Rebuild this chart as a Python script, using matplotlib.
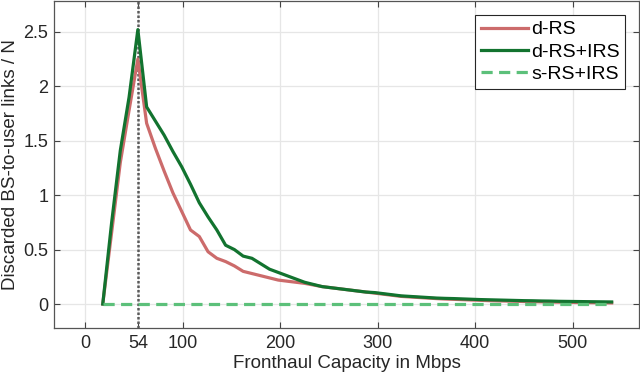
import numpy as np
import matplotlib
matplotlib.use('Agg')
import matplotlib.pyplot as plt

plt.rcParams['font.family'] = ['Liberation Sans', 'DejaVu Sans']

# Fronthaul capacity samples (Mbps)
capacity = list(range(18, 541, 9))

d_rs = [0, 0.65, 1.30, 1.78, 2.25, 1.66, 1.43, 1.22, 1.02, 0.85,
        0.68, 0.62, 0.48, 0.42, 0.39, 0.35, 0.30, 0.28, 0.26, 0.24,
        0.22, 0.21, 0.20, 0.19, 0.175, 0.16, 0.15, 0.14, 0.13, 0.12,
        0.11, 0.10, 0.09, 0.08, 0.07, 0.065, 0.06, 0.055, 0.05, 0.046,
        0.043, 0.04, 0.037, 0.034, 0.031, 0.029, 0.027, 0.025, 0.023, 0.021,
        0.02, 0.018, 0.017, 0.015, 0.014, 0.013, 0.012, 0.011, 0.01]

d_rs_irs = [0, 0.74, 1.41, 1.90, 2.52, 1.81, 1.68, 1.55, 1.40, 1.26,
            1.10, 0.93, 0.80, 0.68, 0.54, 0.50, 0.44, 0.42, 0.37, 0.32,
            0.29, 0.26, 0.23, 0.20, 0.18, 0.16, 0.15, 0.14, 0.13, 0.12,
            0.11, 0.105, 0.095, 0.085, 0.075, 0.07, 0.065, 0.06, 0.055, 0.052,
            0.05, 0.047, 0.044, 0.041, 0.039, 0.037, 0.035, 0.033, 0.031, 0.03,
            0.028, 0.027, 0.025, 0.024, 0.023, 0.022, 0.021, 0.02, 0.019]

s_rs_irs = [0.0] * len(capacity)

xticks = [0, 54, 100, 200, 300, 400, 500]
yticks = [0, 0.5, 1, 1.5, 2, 2.5]
ytick_labels = ['0', '0.5', '1', '1.5', '2', '2.5']
marker_capacity = 54

fig = plt.figure(figsize=(6.4, 3.79), dpi=100)
ax = fig.add_axes([0.0844, 0.1346, 0.914, 0.862])

ax.axvline(marker_capacity, color='#5a5a5a', linestyle=(0, (1, 0.8)), linewidth=1.8, zorder=2)
ax.plot(capacity, d_rs, color='#CC6B6B', linewidth=2.3, label='d-RS', zorder=3)
ax.plot(capacity, d_rs_irs, color='#12732F', linewidth=2.3, label='d-RS+IRS', zorder=4)
ax.plot(capacity, s_rs_irs, color='#5CC07A', linewidth=2.3, linestyle=(0, (3.5, 2.0)),
        label='s-RS+IRS', zorder=5)

ax.set_xlim(-32, 568)
ax.set_ylim(-0.22, 2.78)
ax.set_xticks(xticks)
ax.set_yticks(yticks)
ax.set_yticklabels(ytick_labels)
ax.grid(True, color='#e6e6e6', linewidth=0.9)
ax.set_axisbelow(True)

ax.tick_params(direction='in', length=4, width=0.8, colors='#444444',
               labelcolor='#262626', labelsize=13, top=True, right=True)
ax.tick_params(axis='x', pad=5)
ax.tick_params(axis='y', pad=4)
for s in ax.spines.values():
    s.set_color('#555555')
    s.set_linewidth(0.9)

ax.set_xlabel('Fronthaul Capacity in Mbps', fontsize=13.5, color='#262626', labelpad=2)
ax.set_ylabel('Discarded BS-to-user links / N', fontsize=13.5, color='#262626', labelpad=3)

leg = ax.legend(loc='upper right', fontsize=14, frameon=True, fancybox=False,
                edgecolor='#262626', framealpha=1, handlelength=2.4,
                handletextpad=0.15, borderpad=0.3, labelspacing=0.25,
                borderaxespad=0.7)
leg.get_frame().set_linewidth(0.8)

fig.savefig('out.png', dpi=100)
